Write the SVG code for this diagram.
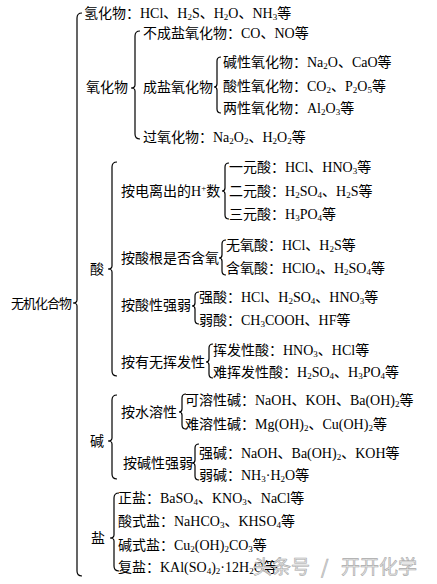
<svg xmlns="http://www.w3.org/2000/svg" width="437" height="584" viewBox="0 0 437 584">
<style>
.t{font-family:"Liberation Serif","Noto Sans CJK SC",serif;font-size:14px;fill:#000}
.s{font-size:9px;baseline-shift:-2px}
.p{font-size:9px;baseline-shift:5px}
.root{font-family:"Noto Sans CJK SC",sans-serif;font-size:13px;fill:#000}
.b{fill:none;stroke:#000;stroke-width:1.2}
.wm{font-family:"Noto Sans CJK SC",sans-serif;font-size:19px;fill:#e6e6e6;stroke:#a8a8a8;stroke-width:0.6}
</style>
<rect width="437" height="584" fill="#fff"/>
<g id="connectors">
<path class="b" d="M82,13 Q77,13 77,18 L77,300 Q77,303 73,303 Q77,303 77,306 L77,571 Q77,576 82,576"/>
<path class="b" d="M140,31 Q135,31 135,36 L135,85 Q135,88 131,88 Q135,88 135,91 L135,134 Q135,139 140,139"/>
<path class="b" d="M221,57 Q217,57 217,61 L217,84 Q217,87 214,87 Q217,87 217,90 L217,109 Q217,113 221,113"/>
<path class="b" d="M117,162 Q112,162 112,167 L112,266 Q112,269 108,269 Q112,269 112,272 L112,371 Q112,376 117,376"/>
<path class="b" d="M229,163 Q225,163 225,167 L225,188 Q225,191 222,191 Q225,191 225,194 L225,215 Q225,219 229,219"/>
<path class="b" d="M226,240 Q222,240 222,244 L222,255 Q222,258 219,258 Q222,258 222,261 L222,271 Q222,275 226,275"/>
<path class="b" d="M199,292 Q195,292 195,296 L195,303 Q195,306 192,306 Q195,306 195,309 L195,320 Q195,324 199,324"/>
<path class="b" d="M213,344 Q209,344 209,348 L209,359 Q209,362 206,362 Q209,362 209,365 L209,374 Q209,378 213,378"/>
<path class="b" d="M117,395 Q112,395 112,400 L112,438 Q112,441 108,441 Q112,441 112,444 L112,474 Q112,479 117,479"/>
<path class="b" d="M186,394 Q182,394 182,398 L182,409 Q182,412 179,412 Q182,412 182,415 L182,425 Q182,429 186,429"/>
<path class="b" d="M199,444 Q195,444 195,448 L195,460 Q195,463 192,463 Q195,463 195,466 L195,476 Q195,480 199,480"/>
<path class="b" d="M119,493 Q114,493 114,498 L114,535 Q114,538 110,538 Q114,538 114,541 L114,566 Q114,571 119,571"/>
</g>
<g id="root"><text class="root" x="11" y="308" textLength="61">无机化合物</text></g>
<g id="hydride"><text class="t" x="84" y="18">氢化物：HCl、H<tspan class="s">2</tspan>S、H<tspan class="s">2</tspan>O、NH<tspan class="s">3</tspan>等</text></g>
<g id="oxide"><text class="t" x="86" y="92">氧化物</text></g>
<g id="non-salt-oxide"><text class="t" x="143" y="38">不成盐氧化物：CO、NO等</text></g>
<g id="salt-oxide"><text class="t" x="143" y="92">成盐氧化物</text></g>
<g id="basic-oxide"><text class="t" x="223" y="67">碱性氧化物：Na<tspan class="s">2</tspan>O、CaO等</text></g>
<g id="acidic-oxide"><text class="t" x="223" y="91">酸性氧化物：CO<tspan class="s">2</tspan>、P<tspan class="s">2</tspan>O<tspan class="s">5</tspan>等</text></g>
<g id="amph-oxide"><text class="t" x="223" y="113">两性氧化物：Al<tspan class="s">2</tspan>O<tspan class="s">3</tspan>等</text></g>
<g id="peroxide"><text class="t" x="143" y="142">过氧化物：Na<tspan class="s">2</tspan>O<tspan class="s">2</tspan>、H<tspan class="s">2</tspan>O<tspan class="s">2</tspan>等</text></g>
<g id="acid"><text class="t" x="90" y="274">酸</text></g>
<g id="acid-h"><text class="t" x="121" y="196">按电离出的H<tspan class="p">+</tspan>数</text></g>
<g id="mono"><text class="t" x="229" y="172">一元酸：HCl、HNO<tspan class="s">3</tspan>等</text></g>
<g id="di"><text class="t" x="229" y="196">二元酸：H<tspan class="s">2</tspan>SO<tspan class="s">4</tspan>、H<tspan class="s">2</tspan>S等</text></g>
<g id="tri"><text class="t" x="229" y="219">三元酸：H<tspan class="s">3</tspan>PO<tspan class="s">4</tspan>等</text></g>
<g id="acid-o"><text class="t" x="121" y="263">按酸根是否含氧</text></g>
<g id="no-o"><text class="t" x="226" y="250">无氧酸：HCl、H<tspan class="s">2</tspan>S等</text></g>
<g id="with-o"><text class="t" x="226" y="273">含氧酸：HClO<tspan class="s">4</tspan>、H<tspan class="s">2</tspan>SO<tspan class="s">4</tspan>等</text></g>
<g id="acid-str"><text class="t" x="121" y="310">按酸性强弱</text></g>
<g id="strong-acid"><text class="t" x="199" y="302">强酸：HCl、H<tspan class="s">2</tspan>SO<tspan class="s">4</tspan>、HNO<tspan class="s">3</tspan>等</text></g>
<g id="weak-acid"><text class="t" x="199" y="325">弱酸：CH<tspan class="s">3</tspan>COOH、HF等</text></g>
<g id="acid-vol"><text class="t" x="121" y="367">按有无挥发性</text></g>
<g id="vol"><text class="t" x="213" y="355">挥发性酸：HNO<tspan class="s">3</tspan>、HCl等</text></g>
<g id="nonvol"><text class="t" x="213" y="377">难挥发性酸：H<tspan class="s">2</tspan>SO<tspan class="s">4</tspan>、H<tspan class="s">3</tspan>PO<tspan class="s">4</tspan>等</text></g>
<g id="base"><text class="t" x="90" y="446">碱</text></g>
<g id="base-sol"><text class="t" x="121" y="417">按水溶性</text></g>
<g id="soluble"><text class="t" x="185" y="405">可溶性碱：NaOH、KOH、Ba(OH)<tspan class="s">2</tspan>等</text></g>
<g id="insoluble"><text class="t" x="185" y="429">难溶性碱：Mg(OH)<tspan class="s">2</tspan>、Cu(OH)<tspan class="s">2</tspan>等</text></g>
<g id="base-str"><text class="t" x="123" y="468">按碱性强弱</text></g>
<g id="strong-base"><text class="t" x="199" y="458">强碱：NaOH、Ba(OH)<tspan class="s">2</tspan>、KOH等</text></g>
<g id="weak-base"><text class="t" x="199" y="480">弱碱：NH<tspan class="s">3</tspan>·H<tspan class="s">2</tspan>O等</text></g>
<g id="salt"><text class="t" x="91" y="543">盐</text></g>
<g id="normal-salt"><text class="t" x="118" y="503">正盐：BaSO<tspan class="s">4</tspan>、KNO<tspan class="s">3</tspan>、NaCl等</text></g>
<g id="acid-salt"><text class="t" x="118" y="526">酸式盐：NaHCO<tspan class="s">3</tspan>、KHSO<tspan class="s">4</tspan>等</text></g>
<g id="basic-salt"><text class="t" x="118" y="550">碱式盐：Cu<tspan class="s">2</tspan>(OH)<tspan class="s">2</tspan>CO<tspan class="s">3</tspan>等</text></g>
<g id="double-salt"><text class="t" x="118" y="572">复盐：KAl(SO<tspan class="s">4</tspan>)<tspan class="s">2</tspan>·12H<tspan class="s">2</tspan>O等</text></g>
<g id="watermark"><text class="wm" x="253" y="574">头条号</text><text class="wm" x="321" y="574">/</text><text class="wm" x="341" y="574">开开化学</text></g>
</svg>
